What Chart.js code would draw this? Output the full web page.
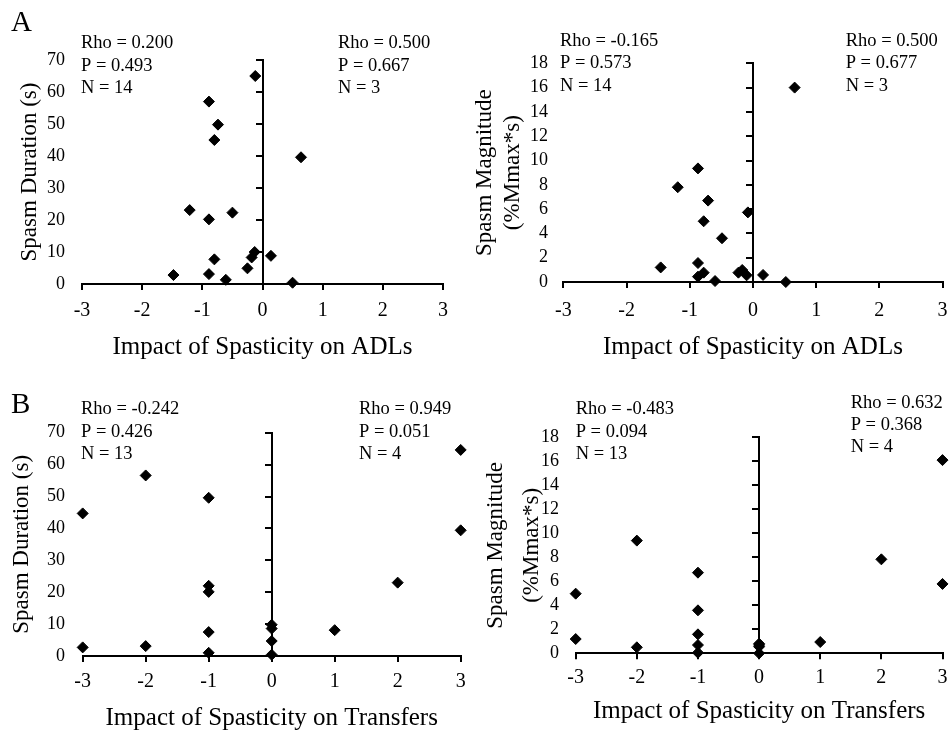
<!DOCTYPE html>
<html>
<head>
<meta charset="utf-8">
<title>Spasm duration / magnitude vs impact of spasticity</title>
<script src="https://cdn.jsdelivr.net/npm/chart.js@4.4.1/dist/chart.umd.min.js"></script>
<style>
  html, body { margin: 0; padding: 0; background: #fff; }
  #wrap { position: relative; width: 949px; height: 731px; overflow: hidden; background: #fff; }
  #wrap canvas { position: absolute; left: 0; top: 0; }
</style>
</head>
<body>
<div id="wrap">
  <canvas id="chartA1" width="949" height="731"></canvas>
  <canvas id="chartA2" width="949" height="731"></canvas>
  <canvas id="chartB1" width="949" height="731"></canvas>
  <canvas id="chartB2" width="949" height="731"></canvas>
</div>
<script>
// values (one point per subject)
// A: impact of spasticity on ADLs
const adlDurX = [-1.48, -1.21, -0.89, -0.74, -0.80, -0.89, -0.50, -0.80, -0.89, -0.61, -0.25, -0.18, -0.13, -0.12, 0.14, 0.50, 0.64];
const adlDurY = [2.8, 23.1, 57.0, 49.8, 45.0, 20.2, 22.3, 7.7, 3.1, 1.3, 4.9, 8.3, 10.0, 65.0, 8.8, 0.4, 39.6];
const adlMagX = [-1.46, -1.19, -0.87, -0.71, -0.78, -0.49, -0.87, -0.87, -0.78, -0.60, -0.23, -0.17, -0.10, -0.08, 0.16, 0.52, 0.66];
const adlMagY = [1.2, 7.8, 9.35, 6.7, 5.0, 3.6, 1.56, 0.44, 0.77, 0.08, 0.77, 0.99, 0.55, 5.73, 0.58, 0.0, 16.0];

// B: impact of spasticity on transfers
const trDurX = [-3, -3, -2, -2, -1, -1, -1, -1, -1, 0, 0, 0, 0, 1, 2, 3, 3];
const trDurY = [44.7, 2.7, 56.6, 3.1, 49.6, 22.0, 20.1, 7.5, 1.0, 9.8, 8.6, 4.7, 0.4, 8.1, 23.0, 64.6, 39.4];
const trMagX = [-3, -3, -2, -2, -1, -1, -1, -1, -1, 0, 0, 0, 0, 1, 2, 3, 3];
const trMagY = [4.97, 1.19, 9.39, 0.5, 6.72, 3.58, 1.58, 0.69, 0.05, 0.8, 0.7, 0.55, 0.0, 0.94, 7.83, 16.1, 5.78];

// correlation notes
const notesA1 = [["Rho = 0.200", "P = 0.493", "N = 14"], ["Rho = 0.500", "P = 0.667", "N = 3"]];
const notesA2 = [["Rho = -0.165", "P = 0.573", "N = 14"], ["Rho = 0.500", "P = 0.677", "N = 3"]];
const notesB1 = [["Rho = -0.242", "P = 0.426", "N = 13"], ["Rho = 0.949", "P = 0.051", "N = 4"]];
const notesB2 = [["Rho = -0.483", "P = 0.094", "N = 13"], ["Rho = 0.632", "P = 0.368", "N = 4"]];

const durationTitle = "Spasm Duration (s)";
const magnitudeTitle = ["Spasm Magnitude", "(%Mmax*s)"];
const adlTitle = "Impact of Spasticity on ADLs";
const transferTitle = "Impact of Spasticity on Transfers";

const FAMILY = "'Liberation Serif', 'Times New Roman', serif";
const PAGE_W = 949, PAGE_H = 731;

// draws the Rho/P/N text blocks and the panel letter
const notesPlugin = {
    id: 'notes',
    afterDraw(chart, args, opts) {
        const ctx = chart.ctx;
        ctx.save();
        ctx.fillStyle = '#000';
        ctx.textAlign = 'left';
        ctx.textBaseline = 'middle';
        ctx.font = "18.5px " + FAMILY;
        opts.blocks.forEach((b) => {
            b.lines.forEach((line, i) => {
                ctx.fillText(line, b.x, b.y + i * b.dy);
            });
        });
        if (opts.letter) {
            ctx.font = "29px " + FAMILY;
            ctx.fillText(opts.letter.text, opts.letter.x, opts.letter.y);
        }
        ctx.restore();
    }
};

function makePanel(id, p) {
    const points = p.xs.map((x, i) => ({ x: x, y: p.ys[i] }));
    return new Chart(document.getElementById(id), {
        type: 'scatter',
        data: {
            datasets: [{
                data: points,
                clip: false,
                pointStyle: 'rectRot',
                pointRadius: 5.5,
                pointHoverRadius: 5.5,
                backgroundColor: '#000',
                borderColor: '#000',
                borderWidth: 1
            }]
        },
        options: {
            responsive: false,
            animation: false,
            events: [],
            layout: {
                padding: {
                    left: p.area.left - p.yW,
                    top: p.area.top,
                    right: PAGE_W - p.area.right,
                    bottom: PAGE_H - p.area.bottom - p.xH
                }
            },
            plugins: {
                legend: { display: false },
                tooltip: { enabled: false },
                notes: { blocks: p.blocks, letter: p.letter }
            },
            scales: {
                x: {
                    type: 'linear',
                    position: 'bottom',
                    min: -3,
                    max: 3,
                    ticks: { stepSize: 1, autoSkip: false, color: '#000', padding: p.xPad, font: { family: FAMILY, size: 20 } },
                    grid: { drawOnChartArea: false, tickLength: 6, color: '#000', lineWidth: 2 },
                    border: { color: '#000', width: 2 },
                    title: { display: true, text: p.xTitle, color: '#000', padding: 0, font: { family: FAMILY, size: 25 } },
                    afterFit: (s) => { s.height = p.xH; s.paddingLeft = 0; s.paddingRight = 0; }
                },
                y: {
                    type: 'linear',
                    position: 'left',
                    min: 0,
                    max: p.yMax,
                    ticks: { stepSize: p.yStep, autoSkip: false, color: '#000', padding: p.yGap, font: { family: FAMILY, size: 18 } },
                    grid: { display: false, drawTicks: false },
                    border: { display: false },
                    title: {
                        display: true, text: p.yTitle, color: '#000',
                        padding: { top: p.yTitlePad, bottom: 0 },
                        font: { family: FAMILY, size: 23, lineHeight: p.yTitleLh + 'px' }
                    },
                    afterFit: (s) => { s.width = p.yW; }
                },
                // vertical axis line drawn at x = 0
                yZero: {
                    type: 'linear',
                    position: { x: 0 },
                    min: 0,
                    max: p.yMax,
                    ticks: { display: false, autoSkip: false, stepSize: p.yStep },
                    grid: { drawOnChartArea: false, tickLength: 6, color: '#000', lineWidth: 2 },
                    border: { color: '#000', width: 2 }
                }
            }
        },
        plugins: [notesPlugin]
    });
}

makePanel('chartA1', {
    xs: adlDurX, ys: adlDurY, yMax: 70, yStep: 10,
    area: { left: 82, top: 60, right: 443, bottom: 284 },
    yW: 82, yGap: 17, yTitle: durationTitle, yTitleLh: 27.6, yTitlePad: 16.2,
    xH: 78, xPad: 9, xTitle: adlTitle,
    blocks: [
        { lines: notesA1[0], x: 81, y: 43.3, dy: 22.5 },
        { lines: notesA1[1], x: 338, y: 43.3, dy: 22.5 }
    ],
    letter: { text: 'A', x: 11, y: 23 }
});

makePanel('chartA2', {
    xs: adlMagX, ys: adlMagY, yMax: 18, yStep: 2,
    area: { left: 563.4, top: 63.3, right: 948.6, bottom: 282 },
    yW: 93.4, yGap: 15.4, yTitle: magnitudeTitle, yTitleLh: 28, yTitlePad: 1,
    xH: 80, xPad: 11, xTitle: adlTitle,
    blocks: [
        { lines: notesA2[0], x: 560, y: 40.7, dy: 22.7 },
        { lines: notesA2[1], x: 845.7, y: 40.7, dy: 22.7 }
    ]
});

makePanel('chartB1', {
    xs: trDurX, ys: trDurY, yMax: 70, yStep: 10,
    area: { left: 82.7, top: 432.7, right: 460.7, bottom: 656 },
    yW: 82.7, yGap: 17.7, yTitle: durationTitle, yTitleLh: 27.6, yTitlePad: 8.2,
    xH: 77, xPad: 8, xTitle: transferTitle,
    blocks: [
        { lines: notesB1[0], x: 81, y: 409.3, dy: 22.4 },
        { lines: notesB1[1], x: 359, y: 409.3, dy: 22.4 }
    ],
    letter: { text: 'B', x: 11, y: 405 }
});

makePanel('chartB2', {
    xs: trMagX, ys: trMagY, yMax: 18, yStep: 2,
    area: { left: 575.7, top: 437.3, right: 942.7, bottom: 653.3 },
    yW: 105.7, yGap: 16.7, yTitle: magnitudeTitle, yTitleLh: 36, yTitlePad: 8,
    xH: 72.7, xPad: 6.7, xTitle: transferTitle,
    blocks: [
        { lines: notesB2[0], x: 575.7, y: 409.3, dy: 22.4 },
        { lines: notesB2[1], x: 850.7, y: 402.7, dy: 22.3 }
    ]
});
</script>
</body>
</html>
